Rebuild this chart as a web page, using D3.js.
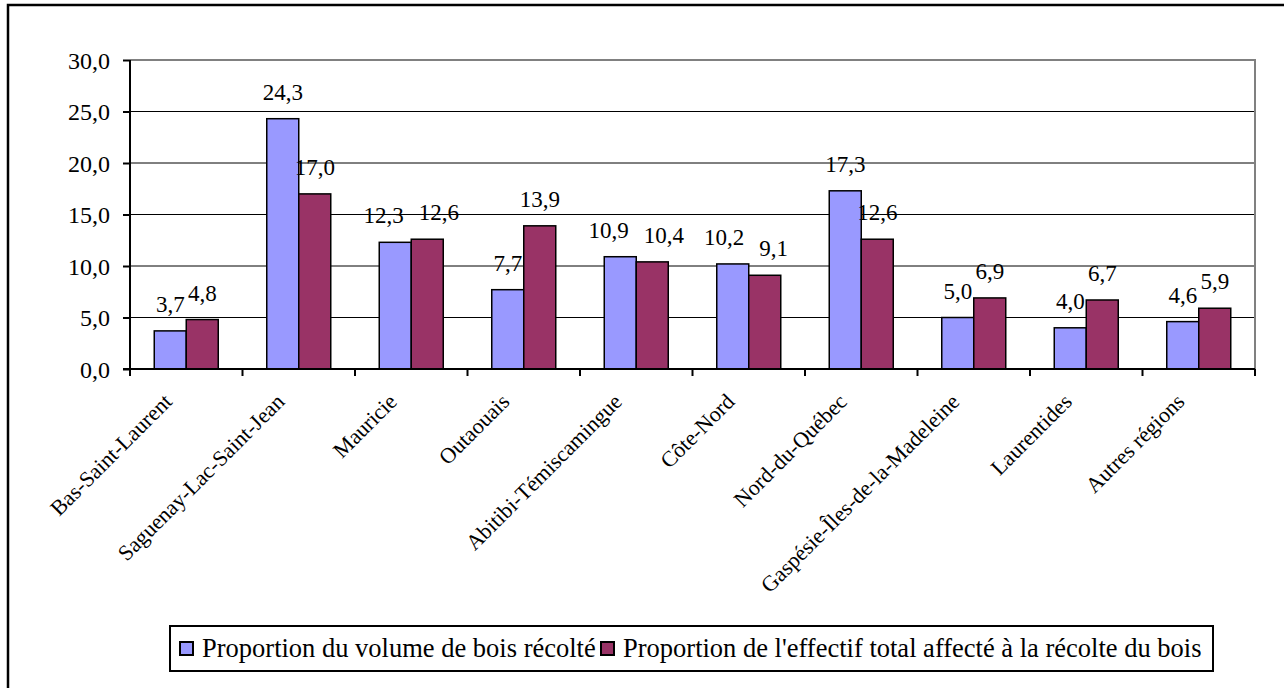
<!DOCTYPE html>
<html><head><meta charset="utf-8">
<script src="https://cdn.jsdelivr.net/npm/d3@7"></script>
<style>body{margin:0;background:#fff}svg{display:block}text{font-family:"Liberation Serif","Times New Roman",Times,serif;fill:#000}</style>
</head><body><svg id="c" width="1284" height="688"></svg>
<script>
const categories = ["Bas-Saint-Laurent","Saguenay-Lac-Saint-Jean","Mauricie","Outaouais","Abitibi-Témiscamingue","Côte-Nord","Nord-du-Québec","Gaspésie-Îles-de-la-Madeleine","Laurentides","Autres régions"];
const volume = [3.7,24.3,12.3,7.7,10.9,10.2,17.3,5.0,4.0,4.6];
const effectif = [4.8,17.0,12.6,13.9,10.4,9.1,12.6,6.9,6.7,5.9];
const seriesNames = ["Proportion du volume de bois récolté","Proportion de l'effectif total affecté à la récolte du bois"];
const colors = ["#9999FF","#993366"];
const yTicks = [0,5,10,15,20,25,30];

const svg = d3.select("#c");
const L=130, R=1255, T=60, B=369;
const FF = "'Liberation Serif','Times New Roman',Times,serif";
// outer frame
svg.append("rect").attr("x",8).attr("y",5).attr("width",1300).attr("height",700).attr("fill","none").attr("stroke","#000").attr("stroke-width",2.5);

const x = d3.scaleBand().domain(categories).range([L,R]).paddingInner(0).paddingOuter(0);
const y = d3.scaleLinear().domain([0,30]).range([B,T]);
const bw = 32;
const fmt = v => d3.format(".1f")(v).replace(".",",");

// gridlines
svg.append("g").selectAll("line").data(yTicks.filter(t=>t>0&&t<30)).join("line")
  .attr("x1",L).attr("x2",R).attr("y1",d=>y(d)).attr("y2",d=>y(d)).attr("stroke","#000").attr("stroke-width",1);
// plot border top/right gray
svg.append("path").attr("d",`M${L},${T}H${R}V${B}`).attr("fill","none").attr("stroke","#808080").attr("stroke-width",2);

const series=[volume,effectif];
const labelGroups=[];
series.forEach((vals,si)=>{
  const g=svg.append("g");
  g.selectAll("rect").data(categories).join("rect")
    .attr("x",(d)=>x(d)+x.bandwidth()/2-bw+si*bw)
    .attr("y",(d,i)=>y(vals[i]))
    .attr("width",bw)
    .attr("height",(d,i)=>y(0)-y(vals[i]))
    .attr("fill",colors[si]).attr("stroke","#000").attr("stroke-width",1.5);
  const t = g.selectAll("text").data(categories).join("text")
    .attr("x",(d)=>x(d)+x.bandwidth()/2-bw/2+si*bw)
    .attr("y",(d,i)=>y(vals[i])-19)
    .attr("text-anchor","middle").attr("font-size",23).attr("font-family",FF)
    .text((d,i)=>fmt(vals[i]));
  labelGroups.push(t.nodes());
});
// push overlapping label pairs apart (only when they share the same height band)
categories.forEach((c,i)=>{
  const a=labelGroups[0][i], b=labelGroups[1][i];
  const wa=a.getComputedTextLength(), wb=b.getComputedTextLength();
  const dy=Math.abs(+a.getAttribute("y")-(+b.getAttribute("y")));
  if (wa/2+wb/2 > bw && dy < 20) {
    const s=(wa/2+wb/2+15-bw)/2;
    d3.select(a).attr("x",+a.getAttribute("x")-s);
    d3.select(b).attr("x",+b.getAttribute("x")+s);
  }
});

// y axis
const ya = svg.append("g").attr("transform",`translate(${L},0)`)
  .call(d3.axisLeft(y).tickValues(yTicks).tickSize(7).tickPadding(13).tickFormat(fmt));
ya.attr("font-family",FF);
ya.select(".domain").attr("stroke","#000").attr("stroke-width",2).attr("d",`M0,${T}V${B}`);
ya.selectAll(".tick line").attr("stroke","#000").attr("stroke-width",2);
ya.selectAll(".tick text").attr("font-size",24).attr("font-family",FF).attr("fill","#000").attr("dy","0.35em");

// x axis
svg.append("line").attr("x1",L-7).attr("x2",R).attr("y1",B).attr("y2",B).attr("stroke","#000").attr("stroke-width",2);
const bounds = categories.map(c=>x(c)).concat([R]);
svg.append("g").selectAll("line").data(bounds).join("line")
  .attr("x1",d=>d).attr("x2",d=>d).attr("y1",B).attr("y2",B+7).attr("stroke","#000").attr("stroke-width",2);
svg.append("g").selectAll("text").data(categories).join("text")
  .attr("transform",d=>`translate(${x(d)+x.bandwidth()/2-13},${B+34}) rotate(-45)`)
  .attr("text-anchor","end").attr("font-size",22).attr("font-family",FF).text(d=>d);

// legend
const lg = svg.append("g");
lg.append("rect").attr("x",170).attr("y",626).attr("width",1043).attr("height",45).attr("fill","#fff").attr("stroke","#000").attr("stroke-width",2);
const legX = [180, 601];
seriesNames.forEach((n,i)=>{
  lg.append("rect").attr("x",legX[i]).attr("y",642).attr("width",13).attr("height",13).attr("fill",colors[i]).attr("stroke","#000").attr("stroke-width",2);
  lg.append("text").attr("x",legX[i]+22).attr("y",657).attr("font-size",26.5).attr("font-family",FF).text(n);
});
</script></body></html>
